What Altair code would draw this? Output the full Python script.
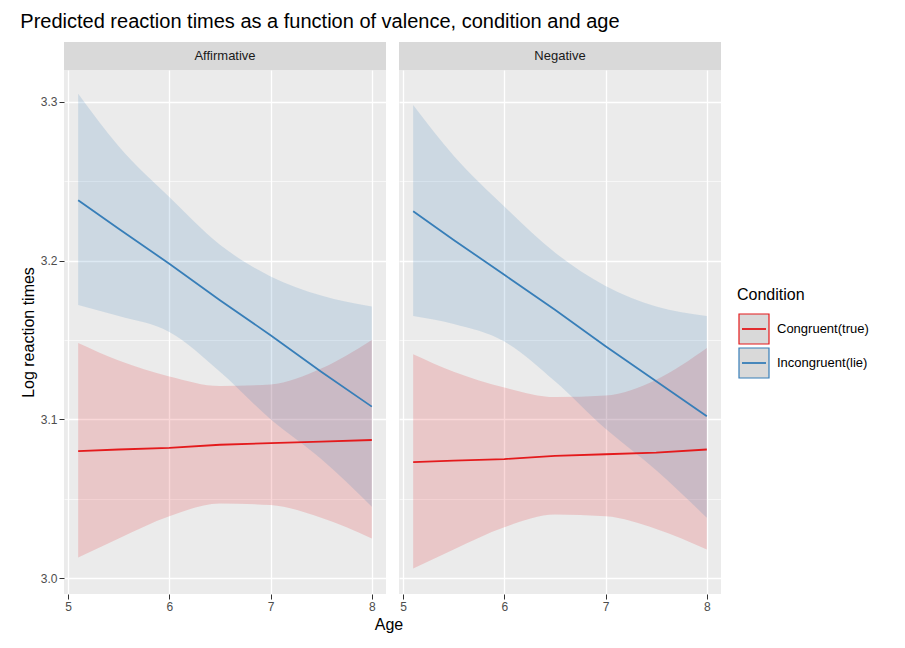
import altair as alt
import pandas as pd

ages = [5.1, 5.5, 6, 6.5, 7, 7.5, 8]

# Affirmative
aff_inc_fit = [3.238, 3.220, 3.198, 3.175, 3.153, 3.130, 3.108]
aff_inc_lo = [3.172, 3.165, 3.155, 3.130, 3.100, 3.075, 3.045]
aff_inc_hi = [3.305, 3.272, 3.240, 3.210, 3.190, 3.178, 3.171]
aff_con_fit = [3.080, 3.081, 3.082, 3.084, 3.085, 3.086, 3.087]
aff_con_lo = [3.013, 3.025, 3.039, 3.047, 3.046, 3.038, 3.025]
aff_con_hi = [3.148, 3.137, 3.127, 3.121, 3.122, 3.132, 3.150]
# Negative
neg_inc_fit = [3.231, 3.213, 3.191, 3.169, 3.146, 3.124, 3.102]
neg_inc_lo = [3.165, 3.160, 3.149, 3.124, 3.094, 3.068, 3.038]
neg_inc_hi = [3.298, 3.266, 3.234, 3.205, 3.184, 3.171, 3.165]
neg_con_fit = [3.073, 3.074, 3.075, 3.077, 3.078, 3.079, 3.081]
neg_con_lo = [3.006, 3.018, 3.032, 3.040, 3.039, 3.031, 3.018]
neg_con_hi = [3.141, 3.130, 3.120, 3.114, 3.115, 3.125, 3.145]

conds = ["Congruent(true)", "Incongruent(lie)"]
colors = ["#E41A1C", "#377EB8"]

rows = []
for val, series in [
    ("Affirmative", [(conds[0], aff_con_fit, aff_con_lo, aff_con_hi), (conds[1], aff_inc_fit, aff_inc_lo, aff_inc_hi)]),
    ("Negative", [(conds[0], neg_con_fit, neg_con_lo, neg_con_hi), (conds[1], neg_inc_fit, neg_inc_lo, neg_inc_hi)]),
]:
    for c, f, lo, hi in series:
        for a, ff, l, h in zip(ages, f, lo, hi):
            rows.append(dict(valence=val, cond=c, age=a, fit=ff, lo=l, hi=h))
df = pd.DataFrame(rows)

cscale = alt.Scale(domain=conds, range=colors)
color = alt.Color("cond:N", scale=cscale, legend=None)

xmaj = "datum.value % 1 == 0"
ymaj = "round(datum.value * 100) % 10 == 0"

def panel(val, show_y):
    d = df[df.valence == val]
    x = alt.X("age:Q", scale=alt.Scale(domain=[4.96, 8.14], nice=False), title=None,
              axis=alt.Axis(values=[5, 5.5, 6, 6.5, 7, 7.5, 8], format="d",
                            labelExpr=f"{xmaj} ? datum.label : ''",
                            gridColor="white", gridWidth={"condition": {"test": xmaj, "value": 1.3}, "value": 0.6},
                            tickColor={"condition": {"test": xmaj, "value": "#333"}, "value": "transparent"},
                            domain=False, labelFontSize=12, labelColor="#4D4D4D"))
    yaxis = alt.Axis(values=[3.0, 3.05, 3.1, 3.15, 3.2, 3.25, 3.3], format=".1f",
                     labelExpr=f"{ymaj} ? datum.label : ''" if show_y else "''",
                     gridColor="white", gridWidth={"condition": {"test": ymaj, "value": 1.3}, "value": 0.6},
                     tickColor={"condition": {"test": ymaj, "value": "#333"}, "value": "transparent"} if show_y else "transparent",
                     domain=False, labelFontSize=12, labelColor="#4D4D4D",
                     title="Log reaction times" if show_y else None, titleFontSize=16, titleFontWeight="normal")
    y = alt.Y("lo:Q", scale=alt.Scale(domain=[2.99, 3.32], nice=False, zero=False), axis=yaxis)
    base = alt.Chart(d)
    band = base.mark_area(opacity=0.17, interpolate="monotone").encode(x=x, y=y, y2="hi:Q", color=color)
    line = base.mark_line(strokeWidth=1.8).encode(x=x, y="fit:Q", color=color)
    plot = (band + line).properties(width=322, height=524,
                                    view=alt.ViewBackground(fill="#EBEBEB", stroke=None))
    strip = alt.Chart(pd.DataFrame({"t": [val]})).mark_text(fontSize=13, color="#1A1A1A").encode(
        text="t:N").properties(width=322, height=28,
                               view=alt.ViewBackground(fill="#D9D9D9", stroke=None))
    return alt.vconcat(strip, plot, spacing=0)

# manual legend, vertically centred
leg_df = pd.DataFrame({"cond": conds, "pos": [0, 1]})
ly = alt.Y("pos:Q", scale=alt.Scale(domain=[0, 1], range=[287, 321]), axis=None)
keys = alt.Chart(leg_df).mark_rect(fill="#D9D9D9", strokeWidth=1.2, height=30).encode(
    y=ly, x=alt.value(4), x2=alt.value(34),
    stroke=alt.Color("cond:N", scale=cscale, legend=None))
klines = alt.Chart(leg_df).mark_rule(strokeWidth=1.8).encode(
    y=ly, x=alt.value(7), x2=alt.value(31), color=alt.Color("cond:N", scale=cscale, legend=None))
klabels = alt.Chart(leg_df).mark_text(align="left", fontSize=13).encode(
    y=ly, x=alt.value(42), text="cond:N")
ktitle = alt.Chart(pd.DataFrame({"t": ["Condition"]})).mark_text(align="left", fontSize=16).encode(
    x=alt.value(2), y=alt.value(253), text="t:N")
legend = (keys + klines + klabels + ktitle).properties(width=150, height=550,
                                                      view=alt.ViewBackground(fill=None, stroke=None))

charts = alt.hconcat(panel("Affirmative", True), panel("Negative", False), spacing=6)
age = alt.Chart(pd.DataFrame({"t": ["Age"]})).mark_text(fontSize=16, color="black").encode(
    text="t:N").properties(width=650, height=18, view=alt.ViewBackground(stroke=None))
left = alt.vconcat(charts, age, spacing=4)

chart = alt.hconcat(left, legend, spacing=14).properties(
    title=alt.Title("Predicted reaction times as a function of valence, condition and age",
                    fontSize=20, fontWeight="normal", anchor="start", offset=10),
    padding={"left": 12, "top": 4, "right": 5, "bottom": 5},
).configure_view(stroke=None).configure(font="Liberation Sans")

chart.save("out.html", embed_options={"renderer": "svg", "actions": False})
